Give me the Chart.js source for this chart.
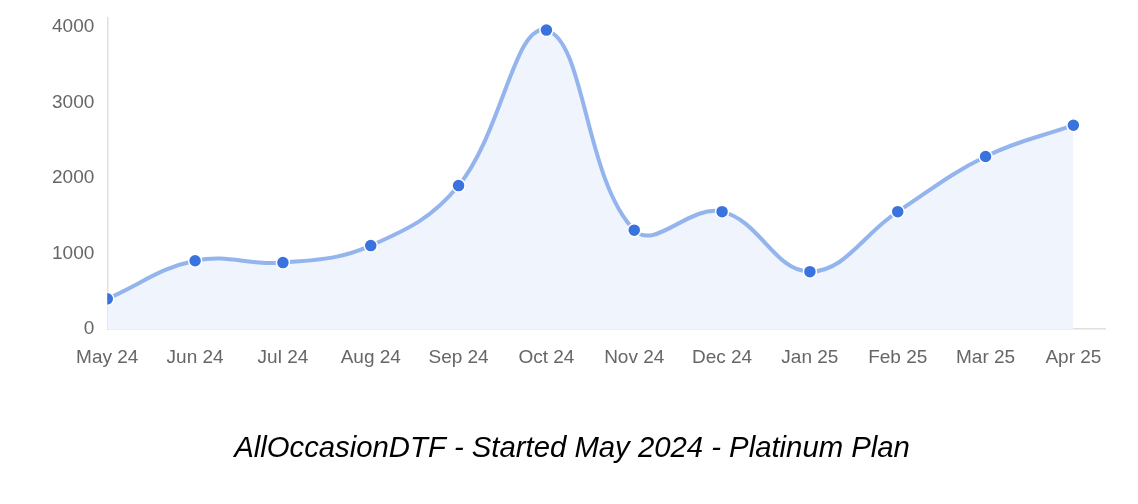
<!DOCTYPE html>
<html>
<head>
<meta charset="utf-8">
<script src="https://cdn.jsdelivr.net/npm/chart.js@4"></script>
<style>
html,body{margin:0;padding:0;background:#fff;}
#wrap{width:1138px;height:504px;}
</style>
</head>
<body>
<div id="wrap"><canvas id="c" width="1138" height="504"></canvas></div>
<script>
const categories = ["May 24","Jun 24","Jul 24","Aug 24","Sep 24","Oct 24","Nov 24","Dec 24","Jan 25","Feb 25","Mar 25","Apr 25"];
const revenue = [400, 905, 880, 1105, 1900, 3960, 1310, 1555, 760, 1555, 2285, 2700];
const yTicks = [0, 1000, 2000, 3000, 4000];
const titleText = "AllOccasionDTF - Started May 2024 - Platinum Plan";

const points = revenue.map((v, i) => ({x: i, y: v}));

new Chart(document.getElementById('c'), {
  type: 'line',
  data: {
    datasets: [{
      data: points,
      borderColor: 'rgba(147,180,236,1)',
      backgroundColor: 'rgba(240,244,252,1)',
      fill: 'origin',
      borderWidth: 4,
      tension: 0.4,
      pointRadius: 6.5,
      pointBackgroundColor: '#3a73dd',
      pointBorderColor: '#ffffff',
      pointBorderWidth: 1.5
    }]
  },
  options: {
    responsive: false,
    animation: false,
    layout: {padding: {top: 18, right: 33, left: 39, bottom: 38}},
    plugins: {
      legend: {display: false},
      tooltip: {enabled: false},
      title: {
        display: true,
        position: 'bottom',
        text: titleText,
        color: '#000',
        font: {family: 'Liberation Sans, Arial, sans-serif', size: 29.3, style: 'italic', weight: 'normal'},
        padding: {top: 45, bottom: 0}
      }
    },
    scales: {
      x: {
        type: 'linear',
        min: 0,
        max: 11.36,
        afterBuildTicks: axis => { axis.ticks = categories.map((c, i) => ({value: i})); },
        ticks: {
          callback: v => categories[v],
          color: '#666',
          font: {family: 'Liberation Sans, Arial, sans-serif', size: 19},
          padding: 17,
          maxRotation: 0,
          autoSkip: false
        },
        grid: {display: false, drawTicks: false},
        border: {display: true, color: '#e0e0e0', width: 1.5}
      },
      y: {
        type: 'linear',
        min: 0,
        max: 4120,
        afterBuildTicks: axis => { axis.ticks = yTicks.map(v => ({value: v})); },
        afterFit: axis => { axis.paddingTop = 0; axis.paddingBottom = 0; },
        ticks: {
          callback: v => String(v),
          color: '#666',
          font: {family: 'Liberation Sans, Arial, sans-serif', size: 19},
          padding: 13
        },
        grid: {display: false, drawTicks: false},
        border: {display: true, color: '#e0e0e0', width: 1.5}
      }
    }
  }
});
</script>
</body>
</html>
